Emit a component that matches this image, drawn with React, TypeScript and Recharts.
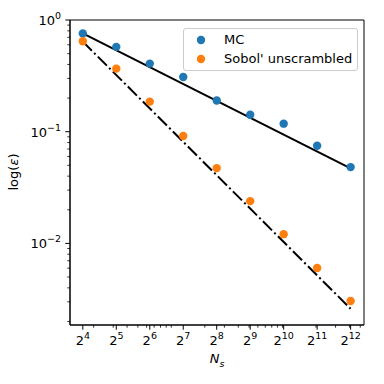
import React from 'react'
import {
  ComposedChart, Scatter, Line, XAxis, YAxis, Legend, ReferenceArea,
} from 'recharts'

// sample sizes N_s = 2^4 ... 2^12
const sampleSizes = [16, 32, 64, 128, 256, 512, 1024, 2048, 4096]
const mcError     = [0.757, 0.575, 0.407, 0.309, 0.190, 0.142, 0.118, 0.0749, 0.0482]
const sobolError  = [0.645, 0.367, 0.186, 0.0915, 0.0472, 0.0239, 0.0121, 0.00603, 0.00305]

// fitted convergence lines (end points)
const fitX     = [16, 4096]
const mcFit    = [0.76, 0.047]
const sobolFit = [0.64, 0.0026]

// ticks
const xMajor = [16, 32, 64, 128, 256, 512, 1024, 2048, 4096]
const xMinor = [20, 30, 40, 50, 60, 70, 80, 90, 100, 200, 300, 400, 500, 600, 700, 800, 900, 1000, 2000, 3000, 4000, 5000]
const yMajor = [1, 0.1, 0.01]
const yMinor = [
  0.002, 0.003, 0.004, 0.005, 0.006, 0.007, 0.008, 0.009,
  0.02, 0.03, 0.04, 0.05, 0.06, 0.07, 0.08, 0.09,
  0.2, 0.3, 0.4, 0.5, 0.6, 0.7, 0.8, 0.9,
]

const X_DOMAIN: [number, number] = [12.27, 5404]
const Y_DOMAIN: [number, number] = [0.00186, 1]

const BLUE   = '#1f77b4'
const ORANGE = '#ff7f0e'
const FONT   = '"DejaVu Sans", sans-serif'

const mcData    = sampleSizes.map((x, i) => ({ x, y: mcError[i] }))
const sobolData = sampleSizes.map((x, i) => ({ x, y: sobolError[i] }))
const mcLine    = fitX.map((x, i) => ({ x, y: mcFit[i] }))
const sobolLine = fitX.map((x, i) => ({ x, y: sobolFit[i] }))

const isMajor = (v: number, list: number[]) => list.some(m => Math.abs(m - v) / m < 1e-6)

const XTick = ({ x, y, payload }: any) => {
  const major = isMajor(payload.value, xMajor)
  return (
    <g>
      <line x1={x} y1={y} x2={x} y2={y + (major ? 4.7 : 2.7)} stroke="#000" strokeWidth={major ? 1 : 0.8} />
      {major && (
        <text x={x} y={y + 20} textAnchor="middle" fontFamily={FONT} fontSize={13} fill="#000">
          2<tspan dy={-6} fontSize={9.5}>{Math.round(Math.log2(payload.value))}</tspan>
        </text>
      )}
    </g>
  )
}

const YTick = ({ x, y, payload }: any) => {
  const major = isMajor(payload.value, yMajor)
  const exp = Math.round(Math.log10(payload.value))
  return (
    <g>
      <line x1={x} y1={y} x2={x - (major ? 4.7 : 2.7)} y2={y} stroke="#000" strokeWidth={major ? 1 : 0.8} />
      {major && (
        <text x={x - 9} y={y + 5} textAnchor="end" fontFamily={FONT} fontSize={13} fill="#000">
          10<tspan dy={-6} fontSize={9.5}>{exp === 0 ? '0' : '\u2212' + Math.abs(exp)}</tspan>
        </text>
      )}
    </g>
  )
}

const dot = (color: string) => (p: any) => <circle cx={p.cx} cy={p.cy} r={4.2} fill={color} />

const LegendBox = () => (
  <div style={{
    position: 'relative', width: 175, height: 43, boxSizing: 'border-box',
    border: '1px solid #cccccc', borderRadius: 3, background: 'rgba(255,255,255,0.8)',
    fontFamily: FONT, fontSize: 13, color: '#000',
  }}>
    {[{ label: 'MC', color: BLUE, top: 11 }, { label: "Sobol' unscrambled", color: ORANGE, top: 30 }].map(e => (
      <div key={e.label}>
        <svg width={10} height={10} style={{ position: 'absolute', left: 12, top: e.top - 5 }}>
          <circle cx={5} cy={5} r={4.2} fill={e.color} />
        </svg>
        <span style={{ position: 'absolute', left: 40, top: e.top - 8, lineHeight: '16px', whiteSpace: 'nowrap' }}>
          {e.label}
        </span>
      </div>
    ))}
  </div>
)

export default function App() {
  return (
    <div style={{ position: 'absolute', left: 0, top: 0, width: 384, height: 384, background: '#fff' }}>
      <ComposedChart width={384} height={384} margin={{ top: 20, right: 20, bottom: 0, left: 0 }}>
        <XAxis
          dataKey="x" type="number" scale="log" domain={X_DOMAIN} allowDataOverflow
          ticks={[...xMajor, ...xMinor]} interval={0} tickSize={0} tickMargin={0} tickLine={false}
          tick={<XTick />} axisLine={{ stroke: '#000' }} height={59}
        />
        <YAxis
          dataKey="y" type="number" scale="log" domain={Y_DOMAIN} allowDataOverflow
          ticks={[...yMajor, ...yMinor]} interval={0} tickSize={0} tickMargin={0} tickLine={false}
          tick={<YTick />} axisLine={{ stroke: '#000' }} width={70}
        />
        <ReferenceArea x1={X_DOMAIN[0]} x2={X_DOMAIN[1]} y1={Y_DOMAIN[0]} y2={Y_DOMAIN[1]} fill="none" stroke="#000" strokeWidth={1} fillOpacity={0} />
        <Scatter name="MC" data={mcData} fill={BLUE} shape={dot(BLUE)} isAnimationActive={false} />
        <Scatter name="Sobol' unscrambled" data={sobolData} fill={ORANGE} shape={dot(ORANGE)} isAnimationActive={false} />
        <Line data={mcLine} dataKey="y" stroke="#000" strokeWidth={2} dot={false} isAnimationActive={false} legendType="none" />
        <Line data={sobolLine} dataKey="y" stroke="#000" strokeWidth={2} strokeDasharray="12.8 3.2 2 3.2" dot={false} isAnimationActive={false} legendType="none" />
        <Legend
          layout="horizontal" verticalAlign="middle" align="center"
          content={<LegendBox />}
          wrapperStyle={{ position: 'absolute', left: 183, top: 28, width: 175, height: 43 }}
        />
      </ComposedChart>
      <div style={{
        position: 'absolute', left: 12.5, top: 172, transform: 'translate(-50%, -50%) rotate(-90deg)',
        fontFamily: FONT, fontSize: 13, whiteSpace: 'nowrap',
      }}>
        log(<i>ε</i>)
      </div>
      <div style={{
        position: 'absolute', left: 217, top: 360, transform: 'translate(-50%, -50%)',
        fontFamily: FONT, fontSize: 13, whiteSpace: 'nowrap',
      }}>
        <i>N</i><sub style={{ fontSize: 9.5, fontStyle: 'italic' }}>s</sub>
      </div>
    </div>
  )
}
